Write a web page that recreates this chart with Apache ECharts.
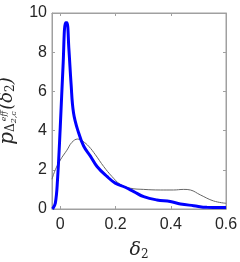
<!DOCTYPE html>
<html><head><meta charset="utf-8">
<script src="https://cdn.jsdelivr.net/npm/echarts@6/dist/echarts.min.js"></script>
<style>html,body{margin:0;padding:0;background:#fff}#c{width:240px;height:262px}</style>
</head><body><div id="c"></div>
<script>
var xTicks = [0, 0.2, 0.4, 0.6];
var blueX = [-0.028,-0.018,-0.01,0,0.01,0.019,0.024,0.031,0.039,0.048,0.066,0.085,0.109,0.133,0.169,0.199,0.235,0.266,0.302,0.35,0.398,0.435,0.483,0.531,0.6];
var blueY = [0,0.29,1.5,4.2,7.3,9.5,9.5,8.2,6.4,4.9,3.9,3.2,2.7,2.17,1.66,1.32,1.11,0.89,0.63,0.46,0.38,0.26,0.17,0.085,0.08];
var grayX = [-0.03,-0.018,0,0.024,0.042,0.063,0.082,0.103,0.127,0.157,0.187,0.217,0.254,0.302,0.362,0.41,0.447,0.471,0.507,0.555,0.6];
var grayY = [1.52,2.0,2.5,3.0,3.4,3.57,3.45,3.2,2.77,2.17,1.66,1.26,1.06,1.0,0.97,0.97,1.0,0.97,0.72,0.41,0.29];
function zip(a,b){return a.map(function(v,i){return [v,b[i]];});}
var chart = echarts.init(document.getElementById('c'), null, {renderer:'canvas'});
var lineC = '#a0a0a0', txtC = '#262626';
chart.setOption({
  animation:false,
  grid:{left:52,right:14,top:13,bottom:53,show:true,borderColor:lineC,borderWidth:1,containLabel:false,outerBoundsMode:'none'},
  xAxis:[{type:'value',min:-0.03,max:0.6,position:'bottom',splitLine:{show:false},
      axisLine:{show:true,onZero:false,lineStyle:{color:lineC}},
      axisTick:{show:true,inside:true,length:3,customValues:xTicks,lineStyle:{color:lineC}},
      axisLabel:{customValues:xTicks,color:txtC,fontSize:16,fontFamily:'Liberation Sans',margin:8,formatter:function(v){return String(v);}},
      name:'{i|δ}{s|2}',nameLocation:'middle',nameGap:30,
      nameTextStyle:{rich:{i:{fontFamily:'DejaVu Serif',fontStyle:'italic',fontSize:19,color:txtC},s:{fontFamily:'DejaVu Serif',fontSize:12,color:txtC,padding:[10,0,0,0]}}}
  },{type:'value',min:-0.03,max:0.6,position:'top',splitLine:{show:false},
      axisLine:{show:true,onZero:false,lineStyle:{color:lineC}},
      axisTick:{show:true,inside:true,length:3,customValues:xTicks,lineStyle:{color:lineC}},
      axisLabel:{show:false}}],
  yAxis:[{type:'value',min:0,max:10,interval:2,position:'left',splitLine:{show:false},
      axisLine:{show:true,onZero:false,lineStyle:{color:lineC}},
      axisTick:{show:true,inside:true,length:3,lineStyle:{color:lineC}},
      axisLabel:{color:txtC,fontSize:16,fontFamily:'Liberation Sans',margin:5},
      name:'{p|p}{d|Δ}{s|2,c}{e|eff}{b|(δ}{t|2}{b|)}',nameLocation:'middle',nameGap:24,nameRotate:90,
      nameTextStyle:{rich:{
        p:{fontFamily:'DejaVu Serif',fontStyle:'italic',fontSize:20,color:txtC},
        d:{fontFamily:'DejaVu Serif',fontSize:12,color:txtC,padding:[8,0,0,0]},
        s:{fontFamily:'DejaVu Serif',fontStyle:'italic',fontSize:8,color:txtC,padding:[14,0,0,0]},
        e:{fontFamily:'DejaVu Serif',fontStyle:'italic',fontSize:8,color:txtC,padding:[0,1,6,-10]},
        b:{fontFamily:'DejaVu Serif',fontStyle:'italic',fontSize:18,color:txtC},
        t:{fontFamily:'DejaVu Serif',fontSize:12,color:txtC,padding:[8,0,0,0]}
      }}},
    {type:'value',min:0,max:10,interval:2,position:'right',splitLine:{show:false},
      axisLine:{show:true,onZero:false,lineStyle:{color:lineC}},
      axisTick:{show:true,inside:true,length:3,lineStyle:{color:lineC}},
      axisLabel:{show:false}}],
  series:[
    {type:'line',data:zip(grayX,grayY),smooth:0.4,showSymbol:false,lineStyle:{color:'#666666',width:1},z:2},
    {type:'line',data:zip(blueX,blueY),smooth:0.4,showSymbol:false,lineStyle:{color:'#0000ff',width:3},z:3}
  ]
});
</script></body></html>
